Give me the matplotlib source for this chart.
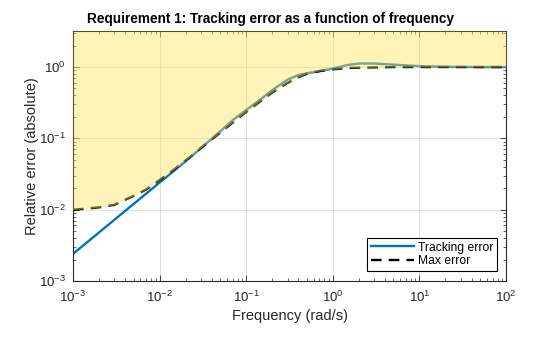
import matplotlib
matplotlib.use("Agg")
import matplotlib.pyplot as plt
from matplotlib.ticker import LogLocator, NullFormatter

plt.rcParams['font.family'] = ['Liberation Sans', 'DejaVu Sans']
plt.rcParams['mathtext.fontset'] = 'custom'
plt.rcParams['mathtext.rm'] = 'Liberation Sans'
plt.rcParams['mathtext.it'] = 'Liberation Sans:italic'
plt.rcParams['mathtext.bf'] = 'Liberation Sans:bold'

# ---- data ----
freq_track = [1e-3, 2e-3, 5e-3, 1e-2, 2e-2, 5e-2, 0.07, 0.1, 0.15, 0.2, 0.3, 0.4,
              0.5, 0.7, 1.0, 1.5, 2.0, 3.0, 5.0, 10.0, 20.0, 50.0, 100.0]
track_err = [0.0024, 0.0048, 0.012, 0.024, 0.048, 0.125, 0.18, 0.25, 0.36, 0.475,
             0.665, 0.77, 0.82, 0.87, 0.955, 1.07, 1.12, 1.12, 1.08, 1.03, 1.01,
             1.0, 1.0]

freq_max = [1e-3, 1.5e-3, 2e-3, 3e-3, 4e-3, 5e-3, 7e-3, 1e-2, 1.4e-2, 2e-2, 3e-2,
            5e-2, 0.1, 0.15, 0.2, 0.3, 0.4, 0.5, 0.7, 1.0, 1.5, 2.0, 3.0, 5.0,
            10.0, 100.0]
max_err = [0.0100, 0.0104, 0.0108, 0.0117, 0.0138, 0.0156, 0.0192, 0.026, 0.035,
           0.049, 0.073, 0.12, 0.235, 0.34, 0.44, 0.60, 0.72, 0.80, 0.88, 0.93,
           0.97, 0.98, 0.99, 1.0, 1.0, 1.0]

xlim = (1e-3, 1e2)
ylim = (1e-3, 3.2)

title = "Requirement 1: Tracking error as a function of frequency"
xlabel = "Frequency (rad/s)"
ylabel = "Relative error (absolute)"

dark = (0.15, 0.15, 0.15)

fig = plt.figure(figsize=(5.6, 3.37), dpi=100)
ax = fig.add_axes([73/560, 1-281/337, (506-73)/560, (281-31)/337])

ax.set_xscale('log')
ax.set_yscale('log')
ax.set_xlim(*xlim)
ax.set_ylim(*ylim)

l1, = ax.plot(freq_track, track_err, color='#0072BD', lw=1.7, zorder=2,
              label='Tracking error')
l2, = ax.plot(freq_max, max_err, color='black', lw=1.7, ls=(0, (4.5, 3)),
              zorder=2, label='Max error')

ax.fill_between(freq_max, max_err, ylim[1], color=(1.0, 0.9, 0.39), alpha=0.45,
                lw=0, zorder=3)

ax.grid(True, which='major', color=(0.15, 0.15, 0.15), alpha=0.15, lw=0.7)
ax.set_axisbelow(True)

ax.xaxis.set_major_locator(LogLocator(base=10, numticks=10))
ax.yaxis.set_major_locator(LogLocator(base=10, numticks=10))
ax.xaxis.set_minor_locator(LogLocator(base=10, subs=range(2, 10), numticks=20))
ax.yaxis.set_minor_locator(LogLocator(base=10, subs=range(2, 10), numticks=20))
ax.xaxis.set_minor_formatter(NullFormatter())
ax.yaxis.set_minor_formatter(NullFormatter())

ax.tick_params(which='both', direction='in', top=True, right=True,
               colors=dark, labelsize=9.5)
ax.tick_params(which='major', length=4, width=0.6)
ax.tick_params(which='minor', length=2, width=0.5)
ax.tick_params(axis='x', which='major', pad=6)
ax.tick_params(axis='y', which='major', pad=5)
for s in ax.spines.values():
    s.set_color(dark)
    s.set_linewidth(0.8)

ax.set_title(title, fontsize=9.8, fontweight='bold', color='black', pad=6,
             x=0.455)
ax.set_xlabel(xlabel, fontsize=10.5, color=dark, labelpad=3)
ax.set_ylabel(ylabel, fontsize=10.5, color=dark, labelpad=0)

leg = ax.legend(handles=[l1, l2], loc='lower right', fontsize=8.7,
                fancybox=False, framealpha=1, edgecolor='black',
                borderpad=0.3, handlelength=3.6, handletextpad=0.3,
                labelspacing=0.15, borderaxespad=0,
                bbox_to_anchor=(0.979, 0.04))
leg.get_frame().set_linewidth(0.8)
leg.set_zorder(5)

fig.savefig('out.png', dpi=100)
